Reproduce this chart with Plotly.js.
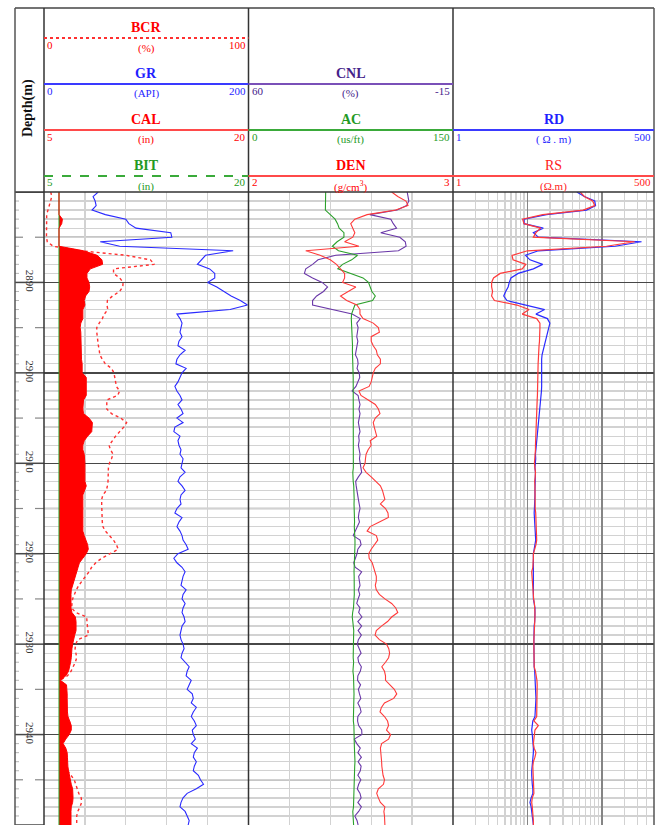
<!DOCTYPE html>
<html><head><meta charset="utf-8">
<script src="https://cdn.plot.ly/plotly-3.0.1.min.js"></script>
<style>html,body{margin:0;padding:0;background:#fff}#chart{width:659px;height:825px}</style>
</head><body><div id="chart"></div>
<script>
// ---------- data (depth sampled every 0.5 m from 2880 m) ----------
const DEPTH_START = 2880, DEPTH_STEP = 0.5, DEPTH_END = 2950;
const DEPTH_LABELS = [2890, 2900, 2910, 2920, 2930, 2940];

const BIT_DEPTH = [2880, 2950];
const BIT = [6.1, 6.1];

const CAL = [6.1,6.1,6.1,6.1,6.1,6.1,6.35,6.3,6.1,6.1,6.1,6.1,6.1,
 7.9,8.9,9.25,9.3,8.4,8.15,8.15,8.3,8.35,8.3,8.05,7.95,8.0,7.85,7.85,7.85,7.7,7.65,7.7,7.7,7.7,7.7,7.7,7.7,7.75,7.8,7.8,7.8,8.1,8.1,8.15,8.15,
 8.1,7.9,7.85,7.85,7.9,8.3,8.55,8.55,8.5,8.2,7.95,7.85,7.85,7.95,8.0,8.0,8.0,8.0,8.0,8.0,8.1,7.95,7.85,7.85,7.85,7.8,7.8,7.8,7.8,7.8,7.85,7.95,8.1,8.2,8.25,8.1,7.85,7.6,7.5,7.4,7.3,7.2,7.05,7.0,6.98,6.98,6.98,6.98,
 7.05,7.3,7.35,7.35,7.35,7.25,7.15,7.1,7.05,7.05,7.0,6.95,6.9,6.8,6.6,6.2,6.65,6.7,6.7,6.7,6.7,6.7,6.72,6.76,6.9,7.0,7.0,6.85,6.6,6.4,6.6,6.7,6.72,6.72,6.75,6.8,6.85,6.9,7.0,7.1,7.13,7.13,7.1,7.0,6.98,6.98,6.98,6.98];

const BCR = [3.3,3.8,3.2,2.6,2.1,1.3,1.3,1.3,1.2,1.0,1.2,1.6,4.5,18,40,52,54,34,34,37,38.7,38.5,37,33.5,31,30.8,31.2,29.5,28.5,27,25.8,25.8,26,26.3,26.6,27,27.3,28.5,30,33,34.2,34.6,35,35.4,
 37,36,30.7,30.7,30.7,33,37.5,40.4,39,37,35,33.5,31.8,32.5,33.8,33,32,31.5,31.5,31.5,31.3,31,30.5,28.8,28.2,28.2,28.2,28.2,28.2,28.5,28.8,30,32,34,35.4,36.3,32.3,28.2,25.3,23.3,22,20.2,18.5,17,15.8,14.8,14,13.7,13.5,
 15.5,20.9,21,21.2,21.4,21.7,16.5,15.5,15.2,15.5,16,15.3,14.2,13.2,11.5,7.8,9.5,10,10,10,10,10.2,10.5,11,12.5,12.7,12.7,11,8.5,8.5,10,10.3,10.5,10.5,10.8,11.5,13,14.8,15.5,16.3,17,18.2,18.4,17.6,16.5,16,16,16];

const GR = [53,48,50,51,47,60,80,83,90,124,
 125,55,74,185,158,154,150,162,167,167,
 160,169,176,183,192,199,182,130,133,135,
 134,133,135,132,131,138,133,130,129,139,
 135,133,131,128,130,133,135,131,134,136,
 130,136,128,127,133,131,132,134,133,136,
 135,134,138,133,131,135,138,134,133,134,
 130,128,135,132,130,133,135,136,139,141,
 131,127,130,135,138,136,135,134,139,136,
 135,138,136,135,137,138,135,134,133,134,
 136,137,135,134,138,142,140,139,144,142,
 140,145,146,144,149,146,144,147,149,145,
 146,148,144,150,147,146,149,147,146,151,
 153,156,149,140,136,134,133,138,140,142,
 141];

const CNL = [1.8,1.4,1.2,2.0,5.5,15.5,7.8,6.9,5.7,11.5,4.5,2.5,2.2,5.0,28,34.5,36.5,39,39.5,36.5,33,31,32.5,35,36.5,36.5,29,22,19,
 20.3,19.8,20.1,20.3,19.9,20.2,20.3,20.8,20.0,19.8,20.2,19.4,19.2,19.8,20.6,22.0,
 19.8,19.5,19.1,19.5,19.1,19.4,19.7,19.4,19.1,19.6,19.4,19.7,19.3,19.1,19.3,19.1,18.8,18.5,19.7,20.7,20.5,20.3,20.0,19.7,19.4,19.1,19.5,19.7,19.3,20.0,20.9,21.6,19.1,18.7,19.9,20.2,20.8,21.4,20.9,18.5,19.6,19.4,19.1,19.7,19.2,19.8,20.3,19.1,
 19.6,18.4,19.9,18.5,19.8,18.6,19.7,20.1,19.3,18.7,19.9,19.6,18.6,19.0,19.9,20.0,18.9,19.7,19.3,18.8,19.9,19.1,18.7,19.9,20.0,19.6,18.5,18.4,21.2,20.3,19.0,19.9,18.6,19.8,18.7,19.0,19.9,18.8,19.6,20.1,19.1,18.7,19.9,18.6,19.6,21.0,20.2,19.8];

const AC = [56.6,56.6,56.6,56.5,56.4,60,63.5,65.3,66.5,70,
 70,65,61.5,66,80,75.7,69,65.5,75,84,
 88,89,90.5,93,91,78,76.5,75.6,75.4,75.6,
 75.8,75.9,76.0,76.1,76.3,76.2,76.4,76.5,76.6,76.6,
 76.7,76.8,76.8,76.9,
 76.9,76.9,77.0,76.8,76.9,77.0,76.9,77.0,77.1,77.0,
 77.2,77.0,76.8,76.9,77.1,77.0,77.2,76.9,76.5,76.4,
 76.8,77.2,77.4,77.3,77.5,77.4,77.6,77.5,77.7,77.8,
 77.6,77.9,78.0,78.1,78.1,77.9,78.0,77.7,77.5,77.6,
 77.4,77.5,77.6,77.4,77.5,77.6,77.4,77.3,77.0,76.4,
 76.1,76.5,77.0,77.2,77.1,77.0,77.2,76.9,76.6,76.8,
 77.1,76.8,76.6,77.0,77.2,77.3,77.2,77.4,77.3,77.2,
 77.0,77.1,77.2,76.9,77.3,77.5,77.6,77.8,77.6,77.7,
 78.0,78.3,78.1,77.9,77.8,77.9,77.7,77.6,77.5,77.6,
 77.4,77.3,77.0,76.5,76.8,77.0,77.1];

const DEN = [2.70,2.73,2.77,2.78,2.72,2.58,2.52,2.50,2.51,2.52,
 2.51,2.47,2.54,2.28,2.35,2.40,2.43,2.45,2.47,2.47,
 2.46,2.525,2.49,2.45,2.48,2.53,2.545,2.545,2.56,2.61,
 2.635,2.64,2.60,2.60,2.61,2.625,2.63,2.645,2.645,2.62,
 2.61,2.605,2.60,
 2.59,2.54,2.55,2.585,2.62,2.635,2.643,2.62,2.61,2.615,2.62,2.627,2.595,2.60,2.585,2.575,2.572,2.57,2.56,2.575,2.60,2.625,2.645,2.655,2.66,2.667,2.645,2.67,2.682,2.684,2.64,2.595,2.58,2.625,2.632,2.615,2.60,2.588,2.59,2.605,2.612,2.619,2.625,2.625,2.62,2.625,2.64,2.667,2.70,2.72,
 2.73,2.70,2.68,2.65,2.625,2.619,2.64,2.675,2.686,2.69,2.685,2.67,2.652,2.665,2.67,2.67,2.69,2.713,2.725,2.71,2.665,2.65,2.643,2.665,2.68,2.685,2.675,2.695,2.685,2.651,2.645,2.648,2.651,2.651,2.652,2.655,2.658,2.665,2.66,2.635,2.627,2.635,2.645,2.667,2.662,2.665,2.667,2.667];

const RD = [46,58,80,82,62,18,9,9,16.3,12,
 14,340,150,14,9.4,10.8,16,12,7.5,6.0,
 5.7,5.5,5.1,4.8,5.3,9.8,17,13,18.5,20,
 19.3,18.8,18.1,17.5,17,16.5,15.7,15.5,15.5,15.6,
 15.8,15.7,15.5,15.5,15.4,
 15.2,15,14.8,14.5,14.2,14,13.8,13.6,13.4,13.3,13.1,13.0,12.9,12.8,12.9,12.7,12.6,12.8,12.7,12.6,12.5,12.6,12.6,12.6,
 12.5,12.4,12.3,12.4,12.5,12.6,12.6,12.7,12.9,12.6,12.2,12.0,12.0,12.0,12.0,11.8,11.9,12.0,12.0,12.0,12.0,12.0,12.3,12.6,12.6,12.6,12.5,12.3,12.2,12.2,12.2,12.2,12.2,12.3,12.3,12.3,12.3,12.5,12.6,12.7,12.8,12.9,13.0,13.0,12.9,12.8,12.7,12.6,11.8,11.6,11.4,11.6,11.8,11.9,12.0,12.0,11.8,11.6,11.4,11.4,11.4,11.4,11.6,11.8,11.8,11.2,10.8,11.2,11.4,11.7,12.0,12.0];

const RS = [51,58,75,80,56,16,8.6,9,15,13,
 12,275,115,10,6.2,6.4,9.5,8.5,4.3,3.5,
 3.3,3.3,3.4,3.3,3.6,7.2,10.5,8.5,13.3,14.7,
 14.7,14.7,14.6,14.5,14.3,14.1,14.0,14,13.9,13.9,
 13.8,13.8,13.8,13.8,13.8,
 13.6,13.5,13.4,13.3,13.2,13.2,13.1,13.0,13.0,12.9,12.8,12.8,12.8,12.7,12.6,12.4,12.6,12.8,12.7,12.5,12.6,12.6,12.7,12.6,
 12.6,12.7,12.9,13.0,13.0,13.0,13.0,13.1,13.3,13.0,12.4,12.0,12.0,12.0,11.8,11.4,11.5,11.7,11.8,11.8,12.0,12.1,12.4,12.6,12.6,12.6,12.5,12.3,12.2,12.2,12.2,12.2,12.2,12.3,12.3,12.3,12.3,12.8,13.2,13.4,13.5,13.5,13.5,13.5,13.5,13.4,13.3,13.3,12.2,14.0,12.6,12.4,12.0,12.0,12.3,13.0,12.6,12.0,11.8,11.9,12.0,12.0,12.2,12.2,12.2,11.6,11.4,11.6,11.8,11.9,12.0,12.0];

// ---------- layout geometry / styles ----------
const W = 659, H = 825;
const px = x => x / W, py = y => 1 - y / H;
const TRACKS = [[44, 248.5], [248.5, 453], [453, 654]];
const DEPTH_TRACK = [15, 44];
const HEADER_TOP = 8, DATA_TOP = 192;
const GRID = '#d2d2d2', GRID5 = '#8e8e8e', GRID10 = '#474747', FRAME = '#333';
const FONT = 'Liberation Serif, Times New Roman, serif';

const depth = CAL.map((_, i) => DEPTH_START + i * DEPTH_STEP);

const traces = [
  {x: BIT, y: BIT_DEPTH, xaxis: 'x3', yaxis: 'y', mode: 'lines', line: {color: '#22a022', width: 1}, hoverinfo: 'skip'},
  {x: CAL, y: depth, xaxis: 'x3', yaxis: 'y', mode: 'lines', fill: 'tonextx', fillcolor: '#ff0000', line: {color: '#ff0000', width: 1}},
  {x: BCR, y: depth, xaxis: 'x', yaxis: 'y', mode: 'lines', line: {color: '#ff3030', width: 1.4, dash: 'dot'}},
  {x: GR, y: depth, xaxis: 'x2', yaxis: 'y', mode: 'lines', line: {color: '#2a2aff', width: 1.1}},
  {x: CNL, y: depth, xaxis: 'x4', yaxis: 'y', mode: 'lines', line: {color: '#6a38a8', width: 1.1}},
  {x: AC, y: depth, xaxis: 'x5', yaxis: 'y', mode: 'lines', line: {color: '#2ca02c', width: 1.1}},
  {x: DEN, y: depth, xaxis: 'x6', yaxis: 'y', mode: 'lines', line: {color: '#ff3a3a', width: 1.1}},
  {x: RS, y: depth, xaxis: 'x8', yaxis: 'y', mode: 'lines', line: {color: '#ff3a3a', width: 1.2}},
  {x: RD, y: depth, xaxis: 'x7', yaxis: 'y', mode: 'lines', line: {color: '#2a2aff', width: 1.2}}
];

const baseX = (t, extra) => Object.assign({
  domain: [px(TRACKS[t][0]), px(TRACKS[t][1])], anchor: 'y', showgrid: true, gridcolor: GRID, gridwidth: 1.3,
  showticklabels: false, ticks: '', zeroline: false, showline: false, fixedrange: true
}, extra);
const overX = (base, extra) => Object.assign({overlaying: base, anchor: 'y', visible: false, fixedrange: true}, extra);

const LOG_MINOR = [2,3,4,5,6,7,8,9,20,30,40,50,60,70,80,90,200,300,400];

const layout = {
  width: W, height: H, margin: {l: 0, r: 0, t: 0, b: 0},
  paper_bgcolor: '#ffffff', plot_bgcolor: 'rgba(0,0,0,0)', showlegend: false,
  font: {family: FONT},
  xaxis: baseX(0, {range: [0, 100], tickvals: [20, 40, 60, 80]}),
  xaxis2: overX('x', {range: [0, 200]}),
  xaxis3: overX('x', {range: [5, 20]}),
  xaxis4: baseX(1, {range: [60, -15], tickvals: [45, 30, 15, 0]}),
  xaxis5: overX('x4', {range: [0, 150]}),
  xaxis6: overX('x4', {range: [2, 3]}),
  xaxis7: baseX(2, {type: 'log', range: [0, Math.log10(500)], tickvals: [10, 100], gridcolor: '#858585',
    minor: {tickmode: 'array', tickvals: LOG_MINOR, showgrid: true, gridcolor: GRID, gridwidth: 1.3, ticks: ''}}),
  xaxis8: overX('x7', {type: 'log', range: [0, Math.log10(500)]}),
  yaxis: {
    domain: [0, py(DATA_TOP)], range: [DEPTH_END, DEPTH_START], anchor: 'x',
    tickmode: 'array', tickvals: DEPTH_LABELS, ticktext: DEPTH_LABELS.map(String), tickangle: 90,
    tickfont: {family: FONT, size: 11, color: '#333'}, ticks: '', ticklabelstandoff: 6,
    showgrid: true, gridcolor: GRID10, gridwidth: 1.5, zeroline: false, showline: false, automargin: false, fixedrange: true,
    minor: {tickmode: 'linear', tick0: DEPTH_START, dtick: 1, showgrid: true, gridcolor: GRID, gridwidth: 1.3, ticks: ''}
  },
  shapes: [], annotations: []
};

const S = layout.shapes, A = layout.annotations;
const pline = (x0, y0, x1, y1, color, width, dash) => S.push({type: 'line', xref: 'paper', yref: 'paper',
  x0: px(x0), x1: px(x1), y0: py(y0), y1: py(y1), line: {color, width, dash: dash || 'solid'}, layer: 'above'});

// 5 m grid lines inside the tracks, ticks and 10 m lines in the depth track
for (let d = DEPTH_START; d <= DEPTH_END; d += 1) {
  if (d % 10 === 0) {
    S.push({type: 'line', xref: 'paper', yref: 'y', x0: px(DEPTH_TRACK[0]), x1: px(DEPTH_TRACK[1]), y0: d, y1: d,
      line: {color: GRID10, width: 1.5}, layer: 'above'});
  } else if (d % 5 === 0) {
    ['x domain', 'x4 domain', 'x7 domain'].forEach(r => S.push({type: 'line', xref: r, yref: 'y', x0: 0, x1: 1, y0: d, y1: d,
      line: {color: GRID5, width: 1.3}, layer: 'below'}));
    S.push({type: 'line', xref: 'paper', yref: 'y', x0: px(15), x1: px(23), y0: d, y1: d, line: {color: '#888', width: 1.2}, layer: 'above'});
    S.push({type: 'line', xref: 'paper', yref: 'y', x0: px(35), x1: px(44), y0: d, y1: d, line: {color: '#888', width: 1.2}, layer: 'above'});
  } else {
    S.push({type: 'line', xref: 'paper', yref: 'y', x0: px(15), x1: px(19), y0: d, y1: d, line: {color: '#b5b5b5', width: 1}, layer: 'above'});
  }
}

// frame
pline(15, HEADER_TOP, 654, HEADER_TOP, '#444', 1.5);
pline(15, DATA_TOP, 654, DATA_TOP, FRAME, 1.5);
[15, 44, 248.5, 453, 654].forEach(x => pline(x, HEADER_TOP, x, H, x === 15 || x === 654 ? '#555' : FRAME, 1.5));

// header
const HEADERS = [
  {track: 0, lineY: 38, name: 'BCR', unit: '(%)', lo: '0', hi: '100', color: '#ff0000', lc: '#ff3030', dash: 'dot', bold: true},
  {track: 0, lineY: 84, name: 'GR', unit: '(API)', lo: '0', hi: '200', color: '#1f1fff', lc: '#3a3aff', dash: 'solid', bold: true},
  {track: 0, lineY: 130, name: 'CAL', unit: '(in)', lo: '5', hi: '20', color: '#ff0000', lc: '#ff4a4a', dash: 'solid', bold: true},
  {track: 0, lineY: 176, name: 'BIT', unit: '(in)', lo: '5', hi: '20', color: '#239a23', lc: '#3aaa3a', dash: 'dash', bold: true},
  {track: 1, lineY: 84, name: 'CNL', unit: '(%)', lo: '60', hi: '-15', color: '#45228a', lc: '#7a50b8', dash: 'solid', bold: true},
  {track: 1, lineY: 130, name: 'AC', unit: '(us/ft)', lo: '0', hi: '150', color: '#239a23', lc: '#3aaa3a', dash: 'solid', bold: true},
  {track: 1, lineY: 176, name: 'DEN', unit: '(g/cm<sup>3</sup>)', lo: '2', hi: '3', color: '#ff0000', lc: '#ff4a4a', dash: 'solid', bold: true},
  {track: 2, lineY: 130, name: 'RD', unit: '( Ω . m)', lo: '1', hi: '500', color: '#1f1fff', lc: '#3a3aff', dash: 'solid', bold: true},
  {track: 2, lineY: 176, name: 'RS', unit: '(Ω.m)', lo: '1', hi: '500', color: '#ff2020', lc: '#ff4a4a', dash: 'solid', bold: false}
];
const ann = (x, y, text, size, color, xanchor, extra) => A.push(Object.assign({xref: 'paper', yref: 'paper', x: px(x), y: py(y),
  text, showarrow: false, xanchor: xanchor || 'center', yanchor: 'middle', font: {family: FONT, size, color}}, extra || {}));
HEADERS.forEach(h => {
  const [l, r] = TRACKS[h.track], c = (l + r) / 2;
  pline(l, h.lineY, r, h.lineY, h.lc, 2, h.dash);
  ann(c, h.lineY - 10.5, h.bold ? '<b>' + h.name + '</b>' : h.name, 14, h.color);
  ann(l + 1, h.lineY + 6.5, h.lo, 11, h.color, 'left');
  ann(r - 1, h.lineY + 6.5, h.hi, 11, h.color, 'right');
  ann(c, h.lineY + 10, h.unit, 11, h.color);
});
ann(28, 108, '<b>Depth(m)</b>', 14, '#111', 'center', {textangle: -90});

Plotly.newPlot('chart', traces, layout, {staticPlot: true, displayModeBar: false});
</script>
</body></html>
